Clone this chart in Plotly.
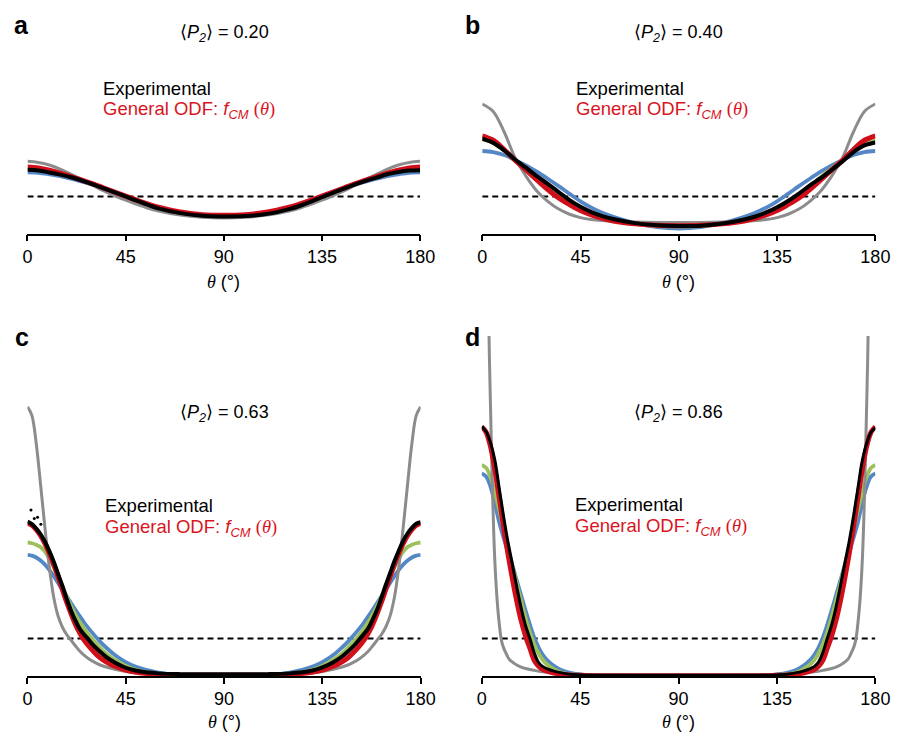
import plotly.graph_objects as go

FIG_W, FIG_H = 907, 733
FONT = "Liberation Sans, Arial, Helvetica, sans-serif"

# ---------------- angle grids (degrees) ----------------
theta_ab = [0, 5, 10, 15, 20, 25, 30, 35, 40, 45, 50, 55, 60, 70, 80, 90,
            100, 110, 120, 125, 130, 135, 140, 145, 150, 155, 160, 165, 170, 175, 180]

theta_cd = [0, 2, 4, 6, 8, 10, 12, 14, 16, 18, 20, 22, 24, 26, 28, 30, 33, 36, 40, 45,
            50, 60, 70, 80, 90, 100, 110, 120, 130, 135, 140, 144, 147, 150, 152, 154,
            156, 158, 160, 162, 164, 166, 168, 170, 172, 174, 176, 178, 180]

theta_gray_d = [0, 1, 2, 3, 3.5, 4, 4.5, 5, 5.5, 6, 7, 8, 9, 10, 11, 12.5, 15, 17.5, 20,
                24, 27, 30, 35, 40, 45, 60, 90, 120, 135, 140, 145, 150, 153, 156, 160,
                162.5, 165, 167.5, 169, 170, 171, 172, 173, 174, 174.5, 175, 175.5, 176,
                176.5, 177, 178, 179, 180]

iso_theta = [0, 180]
iso_level = [1, 1]

x_ticks = [0, 45, 90, 135, 180]

# ---------------- panel a: <P2> = 0.20 ----------------
gray_a = [1.95, 1.92, 1.85, 1.74, 1.60, 1.45, 1.30, 1.15, 1.02, 0.90, 0.79, 0.69, 0.61, 0.50, 0.44, 0.42,
          0.44, 0.50, 0.61, 0.69, 0.79, 0.90, 1.02, 1.15, 1.30, 1.45, 1.60, 1.74, 1.85, 1.92, 1.95]
blue_a = [1.65, 1.64, 1.60, 1.55, 1.48, 1.40, 1.31, 1.21, 1.10, 0.98, 0.87, 0.77, 0.67, 0.54, 0.47, 0.45,
          0.47, 0.54, 0.67, 0.77, 0.87, 0.98, 1.10, 1.21, 1.31, 1.40, 1.48, 1.55, 1.60, 1.64, 1.65]
red_a = [1.80, 1.77, 1.71, 1.63, 1.54, 1.44, 1.34, 1.23, 1.12, 1.01, 0.90, 0.80, 0.71, 0.58, 0.51, 0.49,
         0.51, 0.58, 0.71, 0.80, 0.90, 1.01, 1.12, 1.23, 1.34, 1.44, 1.54, 1.63, 1.71, 1.77, 1.80]
exp_a = [1.72, 1.70, 1.65, 1.59, 1.52, 1.43, 1.33, 1.22, 1.11, 1.00, 0.89, 0.78, 0.68, 0.55, 0.48, 0.46,
         0.47, 0.53, 0.66, 0.75, 0.86, 0.98, 1.10, 1.21, 1.32, 1.42, 1.51, 1.60, 1.66, 1.70, 1.71]

# ---------------- panel b: <P2> = 0.40 ----------------
gray_b = [3.50, 3.30, 2.75, 2.05, 1.55, 1.15, 0.87, 0.66, 0.52, 0.43, 0.38, 0.35, 0.33, 0.31, 0.30, 0.30,
          0.30, 0.31, 0.33, 0.35, 0.38, 0.43, 0.52, 0.66, 0.87, 1.15, 1.55, 2.05, 2.75, 3.30, 3.50]
blue_b = [2.23, 2.20, 2.12, 1.99, 1.84, 1.67, 1.48, 1.28, 1.07, 0.87, 0.70, 0.56, 0.45, 0.28, 0.17, 0.13,
          0.17, 0.28, 0.45, 0.56, 0.70, 0.87, 1.07, 1.28, 1.48, 1.67, 1.84, 1.99, 2.12, 2.20, 2.23]
green_b = [2.55, 2.45, 2.24, 1.99, 1.76, 1.52, 1.28, 1.06, 0.86, 0.70, 0.56, 0.45, 0.37, 0.26, 0.20, 0.19,
           0.20, 0.26, 0.37, 0.45, 0.56, 0.70, 0.86, 1.06, 1.28, 1.52, 1.76, 1.99, 2.24, 2.45, 2.55]
red_b = [2.64, 2.52, 2.27, 1.98, 1.72, 1.45, 1.19, 0.96, 0.78, 0.62, 0.50, 0.41, 0.34, 0.26, 0.22, 0.21,
         0.22, 0.26, 0.34, 0.41, 0.50, 0.62, 0.78, 0.96, 1.19, 1.45, 1.72, 1.98, 2.27, 2.52, 2.64]
exp_b = [2.56, 2.45, 2.25, 2.00, 1.78, 1.55, 1.34, 1.12, 0.90, 0.72, 0.58, 0.47, 0.39, 0.28, 0.22, 0.20,
         0.21, 0.27, 0.38, 0.46, 0.57, 0.71, 0.88, 1.08, 1.30, 1.50, 1.72, 1.95, 2.20, 2.38, 2.46]

# ---------------- panel c: <P2> = 0.63 ----------------
gray_c = [7.18, 6.95, 6.20, 5.10, 3.95, 2.90, 2.10, 1.60, 1.30, 1.10, 0.95, 0.80, 0.66, 0.55, 0.46, 0.39,
          0.30, 0.24, 0.18, 0.12, 0.08, 0.04, 0.02, 0.01, 0.01,
          0.01, 0.02, 0.04, 0.08, 0.12, 0.18, 0.24, 0.30, 0.39, 0.46, 0.55, 0.66, 0.80, 0.95, 1.10,
          1.30, 1.60, 2.10, 2.90, 3.95, 5.10, 6.20, 6.95, 7.18]
blue_c = [3.23, 3.21, 3.16, 3.08, 2.97, 2.83, 2.66, 2.48, 2.30, 2.12, 1.94, 1.76, 1.59, 1.42, 1.27, 1.13,
          0.93, 0.76, 0.56, 0.37, 0.24, 0.09, 0.03, 0.01, 0.00,
          0.01, 0.03, 0.09, 0.24, 0.37, 0.56, 0.76, 0.93, 1.13, 1.27, 1.42, 1.59, 1.76, 1.94, 2.12,
          2.30, 2.48, 2.66, 2.83, 2.97, 3.08, 3.16, 3.21, 3.23]
green_c = [3.56, 3.54, 3.50, 3.44, 3.32, 3.13, 2.90, 2.63, 2.37, 2.11, 1.86, 1.63, 1.43, 1.26, 1.10, 0.96,
           0.77, 0.60, 0.43, 0.27, 0.16, 0.06, 0.02, 0.01, 0.01,
           0.01, 0.02, 0.06, 0.16, 0.27, 0.43, 0.60, 0.77, 0.96, 1.10, 1.26, 1.43, 1.63, 1.86, 2.11,
           2.37, 2.63, 2.90, 3.13, 3.32, 3.44, 3.50, 3.54, 3.56]
red_c = [4.07, 4.02, 3.90, 3.74, 3.53, 3.27, 2.98, 2.65, 2.30, 1.96, 1.65, 1.37, 1.14, 0.95, 0.80, 0.67,
         0.50, 0.38, 0.26, 0.16, 0.10, 0.04, 0.02, 0.02, 0.02,
         0.02, 0.02, 0.04, 0.10, 0.16, 0.26, 0.38, 0.50, 0.67, 0.80, 0.95, 1.14, 1.37, 1.65, 1.96,
         2.30, 2.65, 2.98, 3.27, 3.53, 3.74, 3.90, 4.02, 4.07]
exp_c = [4.12, 4.05, 3.93, 3.78, 3.58, 3.33, 3.05, 2.72, 2.40, 2.05, 1.73, 1.47, 1.25, 1.10, 0.97, 0.83,
         0.66, 0.51, 0.36, 0.22, 0.14, 0.07, 0.05, 0.05, 0.05,
         0.05, 0.05, 0.07, 0.14, 0.23, 0.37, 0.52, 0.67, 0.84, 0.98, 1.12, 1.27, 1.50, 1.76, 2.08,
         2.42, 2.74, 3.06, 3.34, 3.60, 3.80, 3.95, 4.06, 4.10]
# isolated experimental points lying off the main band near 0 deg
exp_c_scatter_theta = [1.6, 3.1, 4.6, 6.1]
exp_c_scatter_value = [4.43, 4.20, 4.23, 4.05]

# ---------------- panel d: <P2> = 0.86 ----------------
gray_d = [15.5, 14.8, 13.0, 10.2, 8.5, 7.2, 5.9, 4.75, 3.8, 3.05, 2.05, 1.40, 0.95, 0.75, 0.62, 0.45,
          0.33, 0.25, 0.20, 0.15, 0.12, 0.10, 0.07, 0.05, 0.03, 0.01, 0.00,
          0.01, 0.03, 0.05, 0.07, 0.10, 0.12, 0.15, 0.20, 0.25, 0.33, 0.45, 0.62, 0.75, 0.95, 1.40,
          2.05, 3.05, 3.8, 4.75, 5.9, 7.2, 8.5, 10.2, 13.0, 14.8, 15.5]
blue_d = [5.40, 5.32, 5.05, 4.60, 4.10, 3.68, 3.30, 2.95, 2.55, 2.15, 1.75, 1.37, 1.03, 0.76, 0.56, 0.42,
          0.27, 0.17, 0.09, 0.04, 0.02, 0.01, 0.00, 0.00, 0.00,
          0.00, 0.00, 0.01, 0.02, 0.04, 0.09, 0.17, 0.27, 0.42, 0.56, 0.76, 1.03, 1.37, 1.75, 2.15,
          2.55, 2.95, 3.30, 3.68, 4.10, 4.60, 5.05, 5.32, 5.40]
green_d = [5.63, 5.55, 5.30, 4.90, 4.42, 3.93, 3.43, 2.95, 2.47, 2.00, 1.56, 1.17, 0.85, 0.60, 0.42, 0.30,
           0.18, 0.10, 0.05, 0.02, 0.01, 0.00, 0.00, 0.00, 0.00,
           0.00, 0.00, 0.00, 0.01, 0.02, 0.05, 0.10, 0.18, 0.30, 0.42, 0.60, 0.85, 1.17, 1.56, 2.00,
           2.47, 2.95, 3.43, 3.93, 4.42, 4.90, 5.30, 5.55, 5.63]
red_d = [6.65, 6.50, 6.12, 5.50, 4.75, 3.97, 3.25, 2.60, 2.00, 1.48, 1.07, 0.74, 0.42, 0.26, 0.17, 0.13,
         0.08, 0.05, 0.03, 0.02, 0.01, 0.01, 0.01, 0.01, 0.01,
         0.01, 0.01, 0.01, 0.01, 0.02, 0.03, 0.05, 0.08, 0.13, 0.17, 0.26, 0.42, 0.74, 1.07, 1.48,
         2.00, 2.60, 3.25, 3.97, 4.75, 5.50, 6.12, 6.50, 6.65]
exp_d = [6.65, 6.52, 6.22, 5.75, 5.00, 4.25, 3.57, 2.98, 2.38, 1.82, 1.35, 1.00, 0.62, 0.36, 0.25, 0.19,
         0.13, 0.09, 0.05, 0.03, 0.02, 0.02, 0.02, 0.02, 0.02,
         0.02, 0.02, 0.02, 0.02, 0.03, 0.05, 0.09, 0.13, 0.19, 0.25, 0.37, 0.63, 1.00, 1.36, 1.83,
         2.40, 3.00, 3.58, 4.26, 5.00, 5.74, 6.20, 6.50, 6.62]

p2_labels = ["0.20", "0.40", "0.63", "0.86"]
panel_letters = ["a", "b", "c", "d"]

# ---------------- styles ----------------
C_GRAY = "#8c8c8c"
C_BLUE = "#5387c6"
C_GREEN = "#9cc05a"
C_RED = "#d10f1b"
C_BLACK = "#000000"
C_TEXT_RED = "#d9141e"


def fx(p):
    return p / FIG_W


def fy(p):
    return 1 - p / FIG_H


# plot-area geometry in pixels: (left, right, baseline, top, px per unit, axis-title y)
geom = [
    (23.0, 424.5, 233.5, 90.0, 37.0, 282.0),
    (488.0, 890.0, 233.5, 90.0, 37.0, 282.0),
    (23.0, 425.0, 676.0, 336.0, 37.5, 722.0),
    (487.5, 890.0, 676.0, 336.0, 37.5, 722.0),
]

fig = go.Figure()


def axis_names(i):
    suffix = "" if i == 0 else str(i + 1)
    return "x" + suffix, "y" + suffix


def line(axis_i, x, y, color, width, dash="solid"):
    xa, ya = axis_names(axis_i)
    fig.add_trace(go.Scatter(
        x=x, y=y, mode="lines", xaxis=xa, yaxis=ya,
        line=dict(color=color, width=width, shape="spline", smoothing=1.0, dash=dash),
        hoverinfo="skip", showlegend=False,
    ))


panels = [
    dict(theta=theta_ab, gray=gray_a, blue=blue_a, green=None, red=red_a, exp=exp_a,
         gray_theta=theta_ab, exp_w=4.0),
    dict(theta=theta_ab, gray=gray_b, blue=blue_b, green=green_b, red=red_b, exp=exp_b,
         gray_theta=theta_ab, exp_w=4.0),
    dict(theta=theta_cd, gray=gray_c, blue=blue_c, green=green_c, red=red_c, exp=exp_c,
         gray_theta=theta_cd, exp_w=4.0),
    dict(theta=theta_cd, gray=gray_d, blue=blue_d, green=green_d, red=red_d, exp=exp_d,
         gray_theta=theta_gray_d, exp_w=3.0),
]

for i, p in enumerate(panels):
    xa, ya = axis_names(i)
    # isotropic reference level
    fig.add_trace(go.Scatter(
        x=iso_theta, y=iso_level, mode="lines", xaxis=xa, yaxis=ya,
        line=dict(color="black", width=2, dash="6px,4px"), hoverinfo="skip", showlegend=False,
    ))
    line(i, p["theta"], p["blue"], C_BLUE, 3.8)
    if p["green"] is not None:
        line(i, p["theta"], p["green"], C_GREEN, 3.8)
    line(i, p["gray_theta"], p["gray"], C_GRAY, 3.0)
    line(i, p["theta"], p["red"], C_RED, 5.0)
    line(i, p["theta"], p["exp"], C_BLACK, p["exp_w"])

fig.add_trace(go.Scatter(
    x=exp_c_scatter_theta, y=exp_c_scatter_value, mode="markers", xaxis="x3", yaxis="y3",
    marker=dict(color="black", size=3), hoverinfo="skip", showlegend=False,
))

layout = dict(
    width=FIG_W, height=FIG_H,
    margin=dict(l=0, r=0, t=0, b=0),
    paper_bgcolor="white", plot_bgcolor="white",
    showlegend=False,
    font=dict(family=FONT, size=18, color="black"),
)

annotations = []
for i, (left, right, base, top, scale, title_y) in enumerate(geom):
    suffix = "" if i == 0 else str(i + 1)
    layout["xaxis" + suffix] = dict(
        domain=[fx(left), fx(right)], range=[0, 180], anchor="y" + suffix,
        tickvals=x_ticks, ticks="outside", ticklen=6, tickwidth=1.5, tickcolor="black",
        showline=True, linecolor="black", linewidth=1.5, showgrid=False, zeroline=False,
        tickfont=dict(family=FONT, size=18, color="black"), fixedrange=True,
    )
    layout["yaxis" + suffix] = dict(
        domain=[fy(base), fy(top)], range=[0, (base - top) / scale], anchor="x" + suffix,
        visible=False, fixedrange=True,
    )
    cx = (left + right) / 2
    # axis title
    annotations.append(dict(
        x=fx(cx), y=fy(title_y), xref="paper", yref="paper", showarrow=False,
        xanchor="center", yanchor="middle",
        text="<span style=\"font-family:Liberation Serif\"><i>θ</i></span> (°)",
        font=dict(family=FONT, size=18, color="black"),
    ))

# panel letters
for letter, (px, py) in zip(panel_letters, [(17, 25), (478, 25), (17, 337), (478, 337)]):
    annotations.append(dict(
        x=fx(px), y=fy(py), xref="paper", yref="paper", showarrow=False,
        xanchor="center", yanchor="middle", text="<b>%s</b>" % letter,
        font=dict(family=FONT, size=25, color="black"),
    ))

# order-parameter titles
BRA = "<span style=\"font-family:DejaVu Sans\">⟨</span>"
KET = "<span style=\"font-family:DejaVu Sans\">⟩</span>"
for lab, (px, py) in zip(p2_labels, [(224, 33), (689, 33), (224, 413), (689, 413)]):
    annotations.append(dict(
        x=fx(px), y=fy(py), xref="paper", yref="paper", showarrow=False,
        xanchor="center", yanchor="middle",
        text=BRA + "<i>P</i><sub><i>2</i></sub>" + KET + " = " + lab,
        font=dict(family=FONT, size=18, color="black"),
    ))

# in-panel key text
for (px, py1, py2) in [(98, 88, 110), (581.5, 88, 110), (100.5, 505, 528), (580.5, 504, 527)]:
    annotations.append(dict(
        x=fx(px), y=fy(py1), xref="paper", yref="paper", showarrow=False,
        xanchor="left", yanchor="middle", text="Experimental",
        font=dict(family=FONT, size=18.5, color="black"),
    ))
    annotations.append(dict(
        x=fx(px), y=fy(py2), xref="paper", yref="paper", showarrow=False,
        xanchor="left", yanchor="middle",
        text="General ODF: <i>f</i><sub><i>CM</i></sub> "
             "<span style=\"font-family:Liberation Serif\">(<i>θ</i>)</span>",
        font=dict(family=FONT, size=18.5, color=C_TEXT_RED),
    ))

layout["annotations"] = annotations
fig.update_layout(**layout)

fig.write_html("out.html")
